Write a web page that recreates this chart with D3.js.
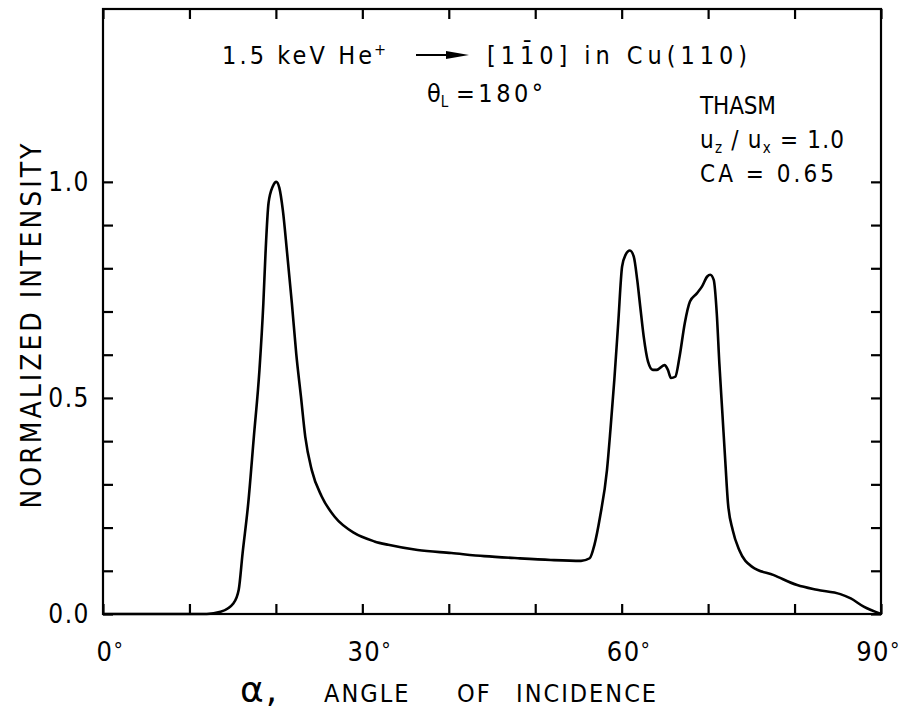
<!DOCTYPE html>
<html><head><meta charset="utf-8">
<script src="https://cdn.jsdelivr.net/npm/d3@7"></script>
<style>
body{margin:0;background:#fff;}
svg{display:block;}
text{font-family:"DejaVu Sans Condensed","DejaVu Sans",sans-serif;fill:#000;}
</style></head>
<body><svg id="chart" width="904" height="711"></svg>
<script>
// ---- data ----
const angleDeg = [0,12.0,13.6,15.1,15.7,16.15,16.8,17.45,18.1,18.55,18.8,19.15,19.65,20.05,20.4,20.8,21.3,21.85,22.35,22.9,23.4,24.15,25.3,26.8,29.1,31.4,33.0,36.4,40.3,44.1,48.0,51.8,55.3,56.3,56.85,57.5,58.3,58.7,59.15,59.6,60.05,60.45,60.95,61.4,61.8,62.15,62.55,63.05,63.6,64.05,64.95,65.35,65.7,66.2,66.7,67.3,67.9,68.7,69.3,69.9,70.25,70.65,71.0,71.3,71.65,72.0,72.3,72.85,73.6,75.1,77.6,80.3,82.6,85.3,86.5,88.0,90];
const intensity = [0,0,0.005,0.025,0.056,0.141,0.256,0.41,0.565,0.719,0.835,0.951,0.99,1.0,0.986,0.935,0.835,0.719,0.603,0.503,0.41,0.333,0.272,0.225,0.187,0.168,0.16,0.148,0.141,0.134,0.129,0.125,0.123,0.129,0.160,0.225,0.333,0.426,0.542,0.673,0.804,0.831,0.841,0.827,0.773,0.711,0.642,0.584,0.565,0.565,0.576,0.565,0.546,0.549,0.596,0.673,0.723,0.742,0.758,0.781,0.785,0.773,0.696,0.58,0.465,0.349,0.256,0.194,0.148,0.109,0.09,0.067,0.056,0.046,0.036,0.017,0];
const xTicks = [0,10,20,30,40,50,60,70,80,90];
const xTickLabels = ["0","30","60","90"];
const xLabelValues = [0,30,60,90];
const yTicks = [0,0.1,0.2,0.3,0.4,0.5,0.6,0.7,0.8,0.9,1.0];
const yLabelValues = [0,0.5,1.0];
const yTickLabels = ["0.0","0.5","1.0"];
const xDomain = [0,90];
const yDomain = [0,1.4];

// ---- scales ----
const L=103, R=881, T=9, B=614;
const x = d3.scaleLinear(xDomain,[L,R]);
const y = d3.scaleLinear(yDomain,[B,T]);
const svg = d3.select("#chart");

// frame
svg.append("rect").attr("x",L).attr("y",T).attr("width",R-L).attr("height",B-T)
  .attr("fill","none").attr("stroke","#000").attr("stroke-width",2.2);

const tk = 10;
const gB = svg.append("g").attr("transform",`translate(0,${B})`)
  .call(d3.axisBottom(x).tickValues(xTicks).tickSize(-tk).tickFormat(""));
const gT = svg.append("g").attr("transform",`translate(0,${T})`)
  .call(d3.axisTop(x).tickValues(xTicks).tickSize(-tk).tickFormat(""));
const gL = svg.append("g").attr("transform",`translate(${L},0)`)
  .call(d3.axisLeft(y).tickValues(yTicks).tickSize(-tk).tickFormat(""));
const gR = svg.append("g").attr("transform",`translate(${R},0)`)
  .call(d3.axisRight(y).tickValues(yTicks).tickSize(-tk).tickFormat(""));
[gB,gT,gL,gR].forEach(g=>{
  g.select(".domain").remove();
  g.selectAll(".tick line").attr("stroke","#000").attr("stroke-width",2.2);
});

// x tick labels: digits centred on the tick, degree sign appended
const xl = svg.append("g").selectAll("text").data(xLabelValues).join("text")
  .attr("y",B+47).attr("font-size",27).attr("letter-spacing",1.5);
xl.append("tspan").attr("class","num").text((d,i)=>xTickLabels[i]);
xl.append("tspan").attr("dy",-3).attr("font-size",21).text("°");
xl.each(function(d){
  const num = d3.select(this).select(".num").node();
  const w = num.getComputedTextLength();
  let x0 = x(d) - w/2 + 2;
  const total = this.getComputedTextLength();
  if (x0 + total > 901) x0 = 901 - total;
  d3.select(this).attr("x",x0);
});

svg.append("g").selectAll("text").data(yLabelValues).join("text")
  .attr("x",L-13).attr("y",d=>y(d)+9).attr("text-anchor","end")
  .attr("font-size",26).attr("letter-spacing",1.5)
  .text((d,i)=>yTickLabels[i]);

// axis titles
const xt = svg.append("text").attr("y",702).attr("font-size",25).attr("letter-spacing",2);
xt.append("tspan").attr("x",240).attr("font-size",36).attr("font-family","DejaVu Sans").text("α,");
xt.append("tspan").attr("x",324).text("ANGLE");
xt.append("tspan").attr("x",457).text("OF");
xt.append("tspan").attr("x",516).text("INCIDENCE");

svg.append("text").attr("transform","translate(41,326) rotate(-90)")
  .attr("text-anchor","middle").attr("font-size",28)
  .attr("textLength",365).attr("lengthAdjust","spacing")
  .text("NORMALIZED  INTENSITY");

// curve
const line = d3.line().x(d=>x(d[0])).y(d=>y(d[1])).curve(d3.curveMonotoneX);
svg.append("path").datum(angleDeg.map((a,i)=>[a,intensity[i]]))
  .attr("d",line).attr("fill","none").attr("stroke","#000")
  .attr("stroke-width",2.6).attr("stroke-linejoin","round");

// title line 1
const t1 = svg.append("text").attr("y",64).attr("font-size",25);
t1.append("tspan").attr("x",222).attr("textLength",150).attr("lengthAdjust","spacing").text("1.5 keV He");
t1.append("tspan").attr("x",374).attr("dy",-9).attr("font-size",16).text("+");
svg.append("text").attr("x",487).attr("y",64).attr("font-size",25)
  .attr("textLength",260).attr("lengthAdjust","spacing")
  .text("[11\u03040]  in  Cu(110)");
// arrow
svg.append("line").attr("x1",416).attr("x2",450).attr("y1",55).attr("y2",55)
  .attr("stroke","#000").attr("stroke-width",2);
svg.append("path").attr("d","M446,51 L469,55 L446,59 Z").attr("fill","#000");

// theta_L
const t2 = svg.append("text").attr("y",102).attr("font-size",25);
t2.append("tspan").attr("x",427).text("θ");
t2.append("tspan").attr("dy",5).attr("font-size",15).text("L");
t2.append("tspan").attr("x",456).attr("dy",-5).attr("textLength",87).attr("lengthAdjust","spacing").text("=180°");

// right annotations
const ax = 700;
svg.append("text").attr("x",ax).attr("y",114).attr("font-size",24)
  .attr("textLength",76).attr("lengthAdjust","spacing").text("THASM");
const t3 = svg.append("text").attr("y",148).attr("font-size",24).attr("letter-spacing",1.2);
t3.append("tspan").attr("x",ax).text("u");
t3.append("tspan").attr("dy",5).attr("font-size",15).text("z");
t3.append("tspan").attr("dy",-5).text(" / u");
t3.append("tspan").attr("dy",5).attr("font-size",15).text("x");
t3.append("tspan").attr("dy",-5).text(" = 1.0");
svg.append("text").attr("x",ax).attr("y",182).attr("font-size",24)
  .attr("textLength",134).attr("lengthAdjust","spacing").text("CA = 0.65");
</script></body></html>
